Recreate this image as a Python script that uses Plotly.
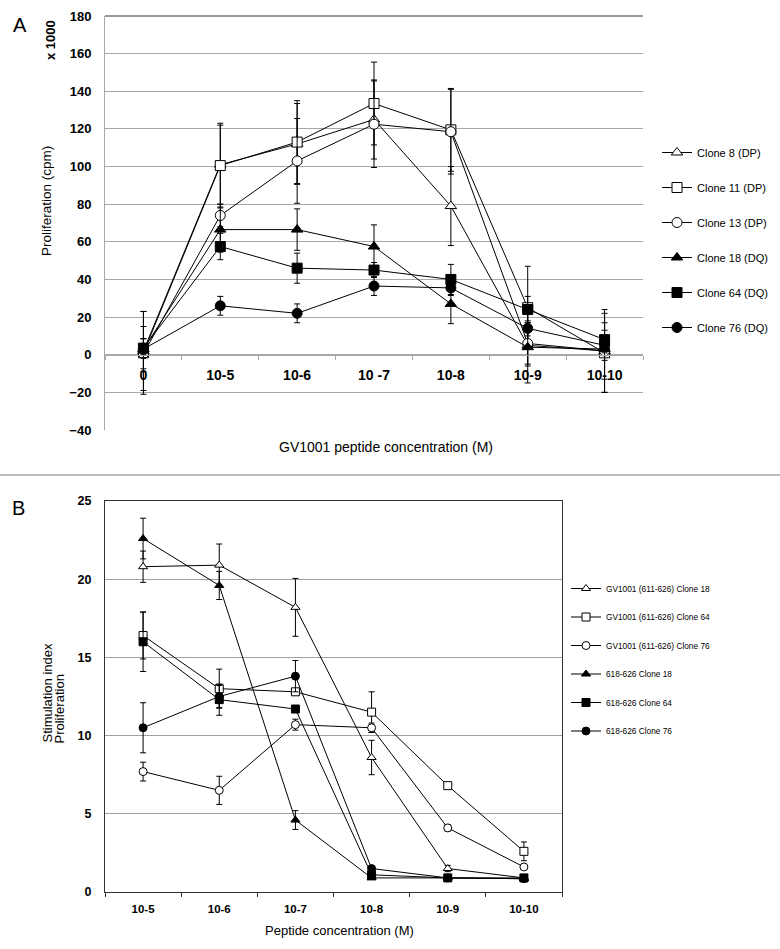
import plotly.graph_objects as go

W, H = 780, 949
def px(x): return x / W
def py(y): return 1 - y / H

# ---------------- Panel A data (cpm x 1000) ----------------
conc_A = ["0", "10-5", "10-6", "10 -7", "10-8", "10-9", "10-10"]
clone8 = [2, 101, 112, 125, 79, 5, 2]
clone8_err = [21, 21, 21.5, 21, 21, 20, 22]
clone11 = [1, 100.5, 113, 133.5, 119.5, 25, 1]
clone11_err = [22, 22.5, 22, 22, 22, 22, 21]
clone13 = [0.5, 74, 103, 122.5, 118.5, 6, 2]
clone13_err = [8, 6, 22.5, 23, 22.5, 11, 15]
clone18 = [3, 66.5, 66.5, 57.5, 27, 4, 3]
clone18_err = [12, 12, 11, 11.5, 10.5, 10, 6]
clone64 = [3.5, 57.5, 46, 45, 40, 24, 8]
clone64_err = [5, 7, 8, 4, 8, 7, 5]
clone76 = [3, 26, 22, 36.5, 35.5, 14, 5]
clone76_err = [3, 5, 5, 5, 4, 4, 4]

# ---------------- Panel B data (stimulation index) ----------------
conc_B = ["10-5", "10-6", "10-7", "10-8", "10-9", "10-10"]
gv18 = [20.8, 20.9, 18.2, 8.6, 1.5, 0.9]
gv18_err = [1.0, 1.35, 1.85, 1.1, 0.2, 0.1]
gv64 = [16.4, 13.0, 12.8, 11.5, 6.8, 2.6]
gv64_err = [1.5, 1.25, 0.2, 1.3, 0.15, 0.6]
gv76 = [7.7, 6.5, 10.7, 10.5, 4.1, 1.6]
gv76_err = [0.6, 0.9, 0.35, 0.3, 0.2, 0.15]
p18 = [22.6, 19.6, 4.6, 0.9, 0.9, 0.85]
p18_err = [1.3, 0.9, 0.6, 0.1, 0.05, 0.05]
p64 = [16.0, 12.3, 11.7, 1.1, 0.9, 0.9]
p64_err = [1.9, 1.0, 0.2, 0.1, 0.1, 0.1]
p76 = [10.5, 12.5, 13.8, 1.5, 0.9, 0.85]
p76_err = [1.6, 0.7, 1.0, 0.1, 0.1, 0.1]

FONT = "Arial, Liberation Sans, sans-serif"

fig = go.Figure()

series_A = [
    ("Clone 8 (DP)", clone8, clone8_err, "triangle-up", "white"),
    ("Clone 11 (DP)", clone11, clone11_err, "square", "white"),
    ("Clone 13 (DP)", clone13, clone13_err, "circle", "white"),
    ("Clone 18 (DQ)", clone18, clone18_err, "triangle-up", "black"),
    ("Clone 64 (DQ)", clone64, clone64_err, "square", "black"),
    ("Clone 76 (DQ)", clone76, clone76_err, "circle", "black"),
]
for name, ys, es, sym, fill in series_A:
    fig.add_trace(go.Scatter(
        x=conc_A, y=ys, name=name, mode="lines+markers",
        xaxis="x", yaxis="y", legend="legend", legendgroup=name,
        line=dict(color="black", width=1),
        marker=dict(symbol=sym, size=10, color=fill, line=dict(color="black", width=1)),
        error_y=dict(type="data", array=es, visible=True, color="black", thickness=1, width=3),
    ))

series_B = [
    ("GV1001 (611-626) Clone 18", gv18, gv18_err, "triangle-up", "white"),
    ("GV1001 (611-626) Clone 64", gv64, gv64_err, "square", "white"),
    ("GV1001 (611-626) Clone 76", gv76, gv76_err, "circle", "white"),
    ("618-626 Clone 18", p18, p18_err, "triangle-up", "black"),
    ("618-626 Clone 64", p64, p64_err, "square", "black"),
    ("618-626 Clone 76", p76, p76_err, "circle", "black"),
]
for name, ys, es, sym, fill in series_B:
    fig.add_trace(go.Scatter(
        x=conc_B, y=ys, name=name, mode="lines+markers",
        xaxis="x2", yaxis="y2", legend="legend2", legendgroup="B" + name,
        line=dict(color="black", width=1),
        marker=dict(symbol=sym, size=8, color=fill, line=dict(color="black", width=1)),
        error_y=dict(type="data", array=es, visible=True, color="black", thickness=1, width=3),
    ))

gridA = "#a8a8a8"
fig.update_layout(
    width=W, height=H, margin=dict(l=0, r=0, t=0, b=0, autoexpand=False),
    paper_bgcolor="white", plot_bgcolor="white",
    font=dict(family=FONT, color="black"),
    xaxis=dict(
        domain=[px(105), px(643)], anchor="free", position=py(355), automargin=False,
        type="category", categoryorder="array", categoryarray=conc_A,
        range=[-0.5, 6.5], showgrid=False, zeroline=False,
        showline=True, linecolor=gridA, linewidth=1,
        ticks="outside", tickson="boundaries", ticklen=4, tickcolor=gridA,
        tickfont=dict(size=14, weight="bold", family=FONT), ticklabelstandoff=7,
    ),
    yaxis=dict(
        domain=[py(430), py(16)], range=[-40, 180], dtick=20, automargin=False,
        showgrid=True, gridcolor=gridA, gridwidth=1, zeroline=False,
        showline=True, linecolor=gridA, linewidth=1,
        ticks="", tickfont=dict(size=13, weight="bold", family=FONT), ticklabelstandoff=10,
    ),
    xaxis2=dict(
        domain=[px(105), px(562)], anchor="y2", automargin=False,
        type="category", categoryorder="array", categoryarray=conc_B,
        range=[-0.5, 5.5], showgrid=False, zeroline=False,
        showline=True, linecolor="#333", linewidth=1, mirror=True,
        ticks="outside", tickson="boundaries", ticklen=4, tickcolor="#333",
        tickfont=dict(size=11.5, weight="bold", family=FONT), ticklabelstandoff=6,
    ),
    yaxis2=dict(
        domain=[py(892), py(501)], anchor="x2", range=[0, 25], dtick=5, automargin=False,
        showgrid=True, gridcolor="#a0a0a0", gridwidth=1, zeroline=False,
        showline=True, linecolor="#333", linewidth=1, mirror=True,
        ticks="", tickfont=dict(size=12.5, weight="bold", family=FONT), ticklabelstandoff=10,
    ),
    legend=dict(
        x=px(657), y=py(138), xanchor="left", yanchor="top",
        font=dict(size=11, family=FONT), tracegroupgap=16,
        bgcolor="rgba(0,0,0,0)", itemwidth=30,
    ),
    legend2=dict(
        x=px(566), y=py(574), xanchor="left", yanchor="top",
        font=dict(size=8.3, family=FONT), tracegroupgap=9.5,
        bgcolor="rgba(0,0,0,0)", itemwidth=30,
    ),
    showlegend=True,
)

# dark top border of panel A and separator line
fig.add_shape(type="line", xref="paper", yref="paper",
              x0=px(105), x1=px(643), y0=py(16), y1=py(16),
              line=dict(color="#333", width=1))
fig.add_shape(type="line", xref="paper", yref="paper",
              x0=0, x1=1, y0=py(475), y1=py(475),
              line=dict(color="#777", width=1))

ann = [
    dict(text="A", x=px(20), y=py(25), font=dict(size=20)),
    dict(text="B", x=px(18), y=py(508), font=dict(size=20)),
    dict(text="<b>x 1000</b>", x=px(50), y=py(40), textangle=-90, font=dict(size=13)),
    dict(text="Proliferation (cpm)", x=px(47), y=py(201), textangle=-90, font=dict(size=13.5)),
    dict(text="GV1001 peptide concentration (M)", x=px(386), y=py(447), font=dict(size=14)),
    dict(text="Peptide concentration (M)", x=px(339), y=py(930), font=dict(size=13)),
    dict(text="Stimulation index", x=px(47), y=py(745), textangle=-90, yanchor="bottom", font=dict(size=13)),
    dict(text="Proliferation", x=px(59), y=py(745), textangle=-90, yanchor="bottom", font=dict(size=13)),
]
for a in ann:
    a.setdefault("xanchor", "center")
    a.setdefault("yanchor", "middle")
    a["font"].setdefault("family", FONT)
    a["font"].setdefault("color", "black")
    fig.add_annotation(xref="paper", yref="paper", showarrow=False, **a)

fig.write_html(
    "out.html",
    config={"displayModeBar": False},
    post_script="document.body.style.margin='0';document.body.style.overflow='hidden';",
)
